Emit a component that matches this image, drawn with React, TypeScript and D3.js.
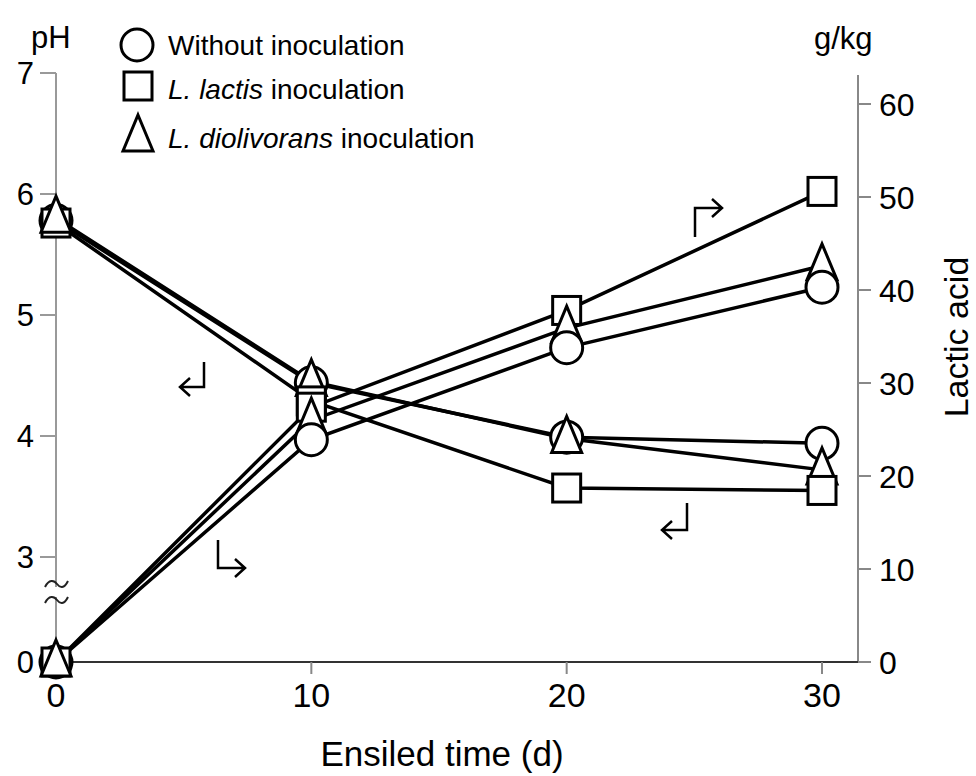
import React from "react";
import * as d3 from "d3";

const days = [0, 10, 20, 30];
const phWithout = [5.78, 4.44, 3.99, 3.94];
const phLactis = [5.76, 4.29, 3.57, 3.55];
const phDiol = [5.8, 4.45, 3.98, 3.72];
const laWithout = [0, 23.9, 33.8, 40.3];
const laLactis = [0, 27.4, 37.8, 50.6];
const laDiol = [0, 26.0, 35.9, 42.6];

const phTicks = [0, 3, 4, 5, 6, 7];
const laTicks = [0, 10, 20, 30, 40, 50, 60];
const dayTicks = [0, 10, 20, 30];

const W = 976;
const H = 776;
const FONT = "'Liberation Sans', Arial, sans-serif";

const x = d3.scaleLinear().domain([0, 30]).range([56, 822]);
const yPH = d3.scaleLinear().domain([0, 3, 7]).range([662, 557, 73]);
const yLA = d3.scaleLinear().domain([0, 60]).range([662, 104]);

type Shape = "circle" | "square" | "triangle";

function Marker({ shape, cx, cy }: { shape: Shape; cx: number; cy: number }) {
  const common = { fill: "#fff", stroke: "#000", strokeWidth: 3 };
  if (shape === "circle") return <circle cx={cx} cy={cy} r={16} {...common} />;
  if (shape === "square")
    return <rect x={cx - 14} y={cy - 14} width={28} height={28} {...common} />;
  return (
    <path
      d={`M${cx},${cy - 22} L${cx + 15},${cy + 14} L${cx - 15},${cy + 14} Z`}
      {...common}
      strokeLinejoin="miter"
    />
  );
}

type Series = { vals: number[]; axis: "ph" | "la"; shape: Shape };
const series: Series[] = [
  { vals: phWithout, axis: "ph", shape: "circle" },
  { vals: phDiol, axis: "ph", shape: "triangle" },
  { vals: phLactis, axis: "ph", shape: "square" },
  { vals: laLactis, axis: "la", shape: "square" },
  { vals: laDiol, axis: "la", shape: "triangle" },
  { vals: laWithout, axis: "la", shape: "circle" },
];
// stacking order of the markers that share day 0
const day0Order: Series[] = [
  series[0],
  series[5],
  series[2],
  series[3],
  series[1],
  series[4],
];

export default function App() {
  const line = (vals: number[], axis: "ph" | "la") =>
    d3
      .line<number>()
      .x((_, i) => x(days[i]))
      .y((v) => (axis === "ph" ? yPH(v) : yLA(v)))(vals) as string;

  const axisX0 = 56;
  const axisXR = 858;
  const arrowStyle = { fill: "none", stroke: "#000", strokeWidth: 2.5 };

  return (
    <svg
      width={W}
      height={H}
      viewBox={`0 0 ${W} ${H}`}
      style={{ position: "absolute", left: 0, top: 0, background: "#fff" }}
      fontFamily={FONT}
    >
      <rect width={W} height={H} fill="#fff" />
      {/* left axis with break */}
      <line x1={axisX0} x2={axisX0} y1={yPH(7)} y2={587} stroke="#999" strokeWidth={2} />
      <line x1={axisX0} x2={axisX0} y1={597} y2={yPH(0)} stroke="#999" strokeWidth={2} />
      <path d="M45,587 C49,579 54,580 57,584 C60,588 64,589 68,581" fill="none" stroke="#222" strokeWidth={2} />
      <path d="M45,603 C49,595 54,596 57,600 C60,604 64,605 68,597" fill="none" stroke="#222" strokeWidth={2} />
      {phTicks.map((t) => (
        <g key={"p" + t}>
          {t !== 0 && (
            <line x1={axisX0 - 16} x2={axisX0} y1={yPH(t)} y2={yPH(t)} stroke="#999" strokeWidth={2} />
          )}
          <text x={34} y={yPH(t)} dy="0.36em" textAnchor="end" fontSize={31} fill="#000">
            {t}
          </text>
        </g>
      ))}
      {/* right axis */}
      <line x1={axisXR} x2={axisXR} y1={75} y2={yLA(0)} stroke="#888" strokeWidth={2} />
      {laTicks.map((t) => (
        <g key={"l" + t}>
          <line x1={axisXR} x2={axisXR + 13} y1={yLA(t)} y2={yLA(t)} stroke="#888" strokeWidth={2} />
          <text x={879} y={yLA(t)} dy="0.36em" textAnchor="start" fontSize={32} fill="#000">
            {t}
          </text>
        </g>
      ))}
      {/* bottom axis */}
      <line x1={axisX0} x2={axisXR} y1={662} y2={662} stroke="#333" strokeWidth={2} />
      {dayTicks.map((t) => (
        <g key={"d" + t}>
          {t !== 0 && (
            <line x1={x(t)} x2={x(t)} y1={662} y2={674} stroke="#888" strokeWidth={2} />
          )}
          <text x={x(t)} y={707} textAnchor="middle" fontSize={34} fill="#000">
            {t}
          </text>
        </g>
      ))}
      <text x={442} y={766} textAnchor="middle" fontSize={35} fill="#000">
        Ensiled time (d)
      </text>
      <text
        transform="translate(968,337) rotate(-90)"
        textAnchor="middle"
        fontSize={34}
        fill="#000"
      >
        Lactic acid
      </text>
      <text x={31} y={48} fontSize={31} fill="#000">
        pH
      </text>
      <text x={814} y={49} fontSize={31} fill="#000">
        g/kg
      </text>

      {/* lines */}
      {series.map((s, i) => (
        <path key={"ln" + i} d={line(s.vals, s.axis)} fill="none" stroke="#000" strokeWidth={3.5} />
      ))}
      {/* day 0 markers */}
      {day0Order.map((s, i) => (
        <Marker
          key={`z${i}`}
          shape={s.shape}
          cx={x(days[0])}
          cy={s.axis === "ph" ? yPH(s.vals[0]) : yLA(s.vals[0])}
        />
      ))}
      {/* other markers */}
      {series.map((s, i) =>
        s.vals.map((v, j) =>
          j === 0 ? null : (
            <Marker
              key={`m${i}-${j}`}
              shape={s.shape}
              cx={x(days[j])}
              cy={s.axis === "ph" ? yPH(v) : yLA(v)}
            />
          )
        )
      )}

      {/* arrows */}
      <path d="M204,362 L204,387 L180,387 M190,378 L180,387 L190,396" {...arrowStyle} />
      <path d="M218,540 L218,568 L245,568 M235,559 L245,568 L235,577" {...arrowStyle} />
      <path d="M695,237 L695,208 L722,208 M712,199 L722,208 L712,217" {...arrowStyle} />
      <path d="M687,503 L687,530 L662,530 M672,521 L662,530 L672,539" {...arrowStyle} />

      {/* legend */}
      <Marker shape="circle" cx={137} cy={45} />
      <text x={168} y={55} fontSize={28} fill="#000">
        Without inoculation
      </text>
      <Marker shape="square" cx={138} cy={86} />
      <text x={168} y={99} fontSize={28} fill="#000">
        <tspan fontStyle="italic">L. lactis</tspan> inoculation
      </text>
      <Marker shape="triangle" cx={138} cy={137} />
      <text x={168} y={148} fontSize={28} fill="#000">
        <tspan fontStyle="italic">L. diolivorans</tspan> inoculation
      </text>
    </svg>
  );
}
